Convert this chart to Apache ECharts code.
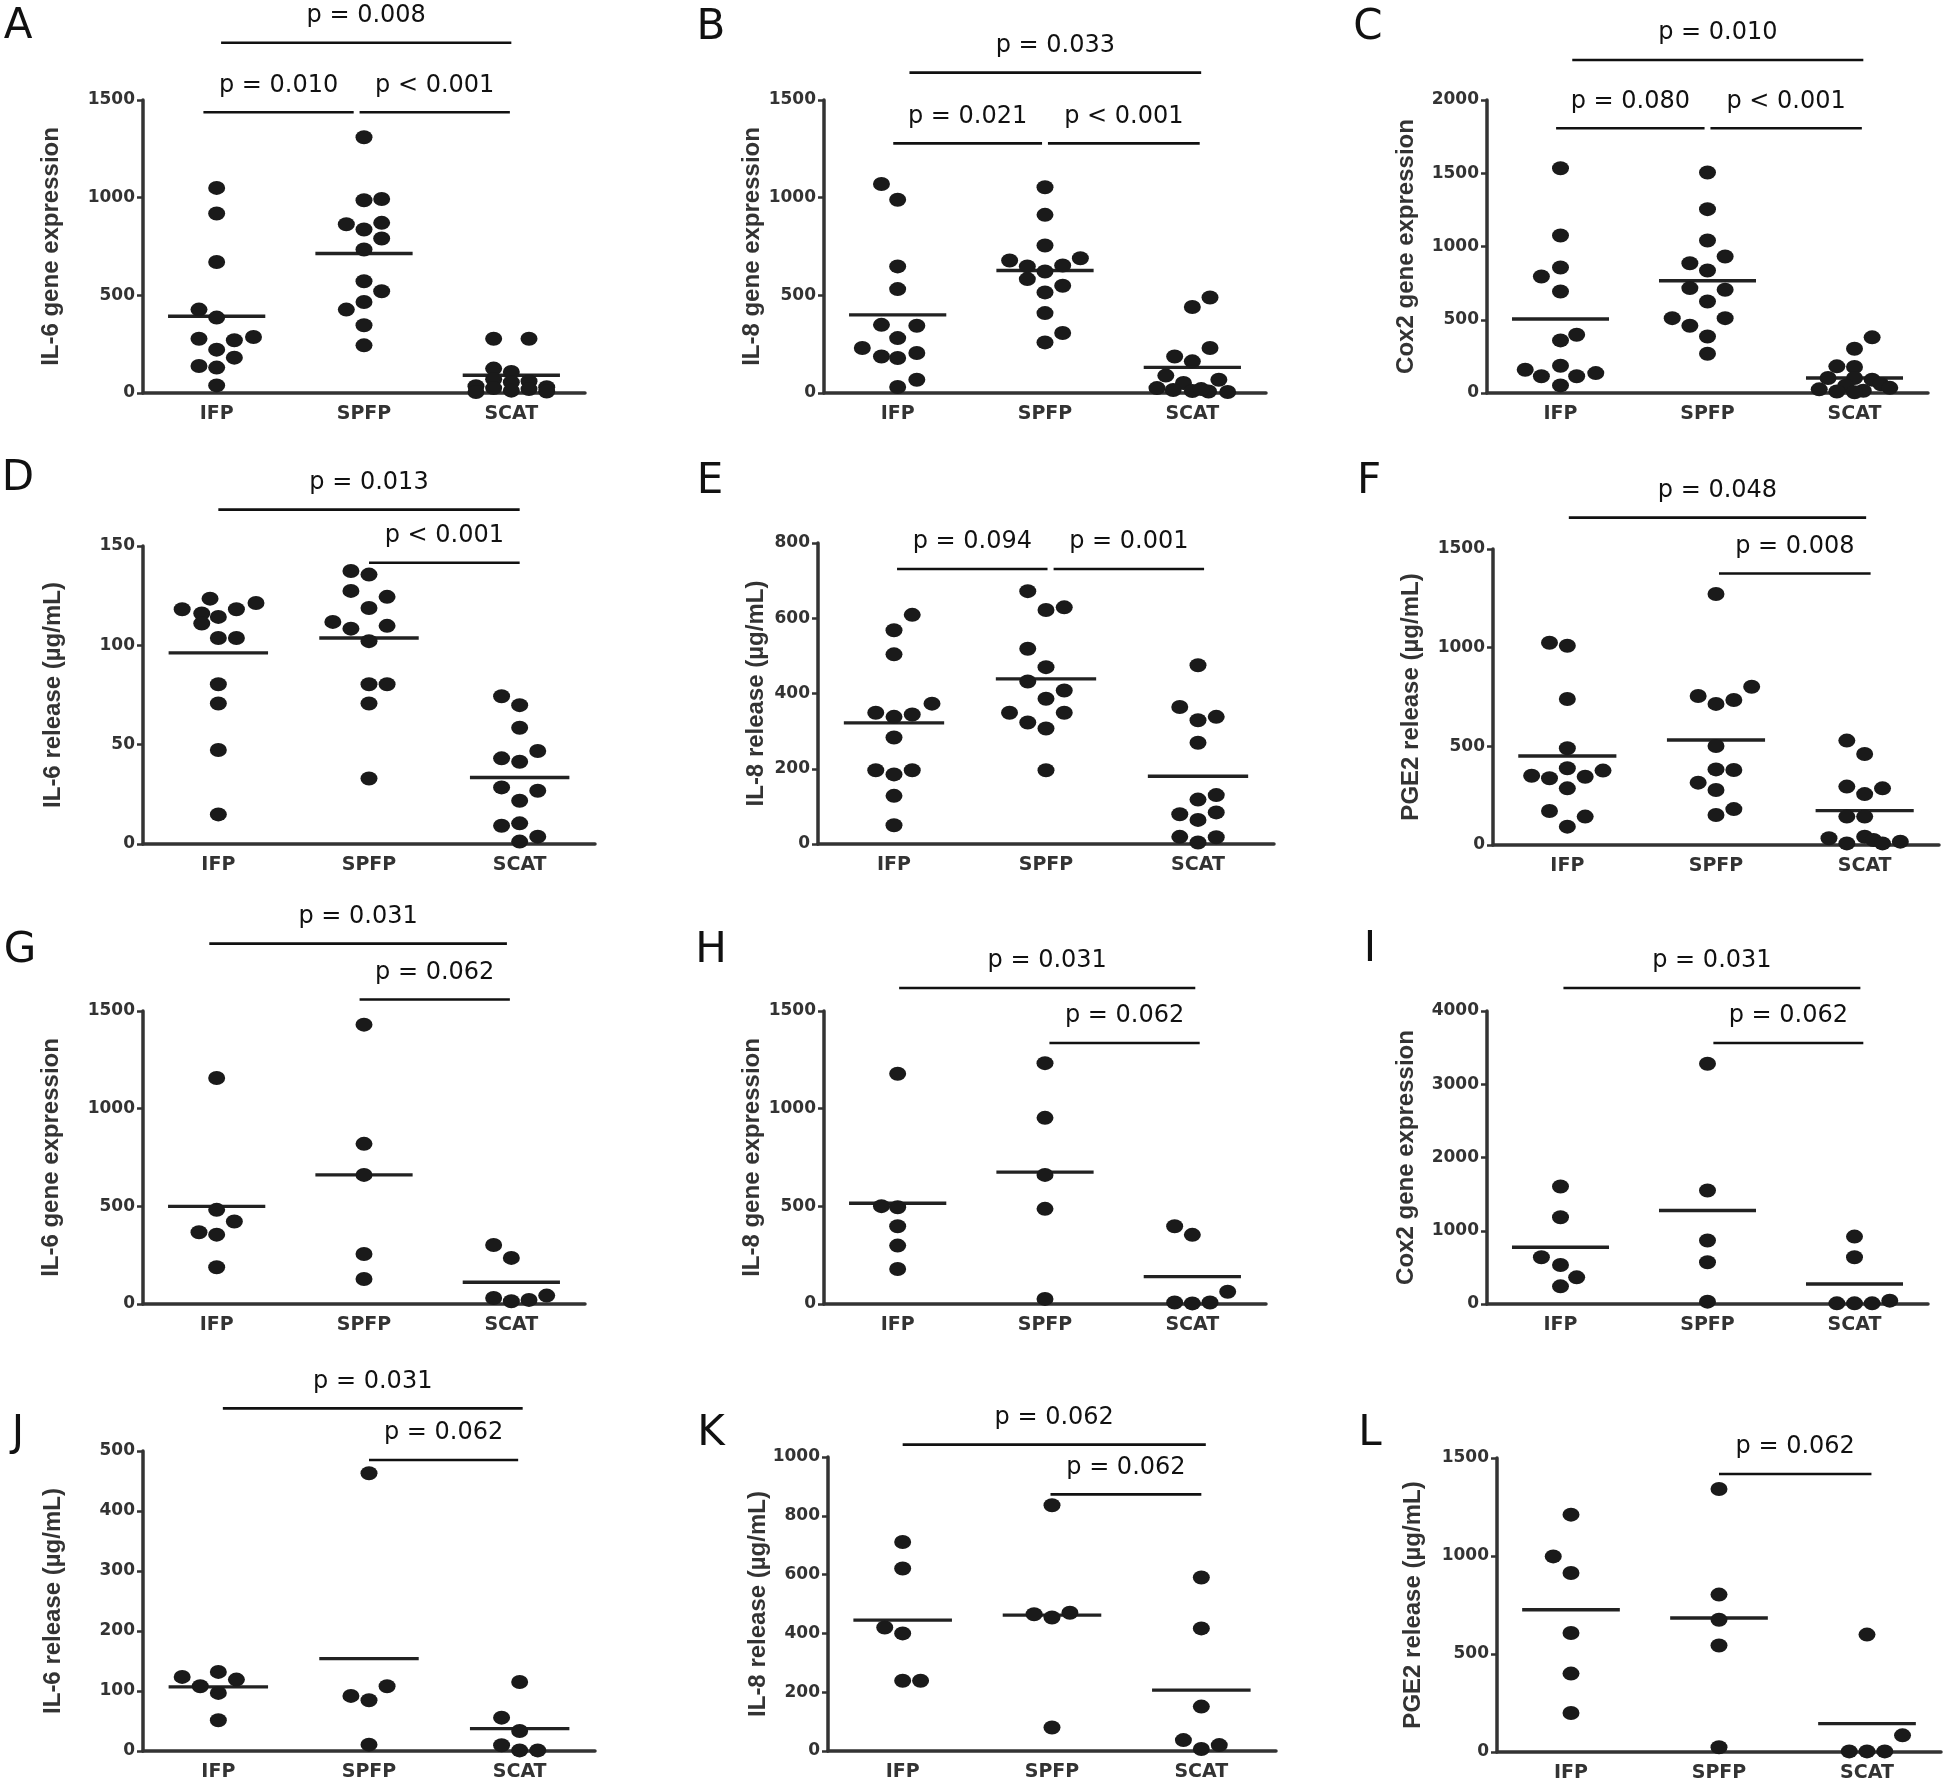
<!DOCTYPE html>
<html><head><meta charset="utf-8">
<script src="https://cdn.jsdelivr.net/npm/echarts@6/dist/echarts.min.js"></script>
<style>html,body{margin:0;padding:0;background:#fff}#c{width:1946px;height:1787px}</style>
</head><body><div id="c"></div><script>
const groups = ['IFP', 'SPFP', 'SCAT'];
const panelLetters = ['A','B','C','D','E','F','G','H','I','J','K','L'];
const yTitles = ['IL-6 gene expression','IL-8 gene expression','Cox2 gene expression',
  'IL-6 release (µg/mL)','IL-8 release (µg/mL)','PGE2 release (µg/mL)',
  'IL-6 gene expression','IL-8 gene expression','Cox2 gene expression',
  'IL-6 release (µg/mL)','IL-8 release (µg/mL)','PGE2 release (µg/mL)'];
const yMax  = [1500, 1500, 2000, 150, 800, 1500, 1500, 1500, 4000, 500, 1000, 1500];
const yStep = [500, 500, 500, 50, 200, 500, 500, 500, 1000, 100, 200, 500];

// ---- A ----
const A_IFP  = [1050, 919, 671, 427, 386, 278, 270, 287, 222, 181, 138, 130, 39];
const A_SPFP = [1309, 987, 993, 864, 871, 837, 791, 735, 572, 521, 466, 427, 347, 244];
const A_SCAT = [278, 278, 125, 108, 70, 60, 55, 35, 30, 25, 20, 12, 8, 5];
const A_jit = [[0,0,0,-0.12,0,-0.12,0.12,0.25,0,0.12,-0.12,0,0],
               [0,0,0.12,-0.12,0.12,0,0.12,0,0,0.12,0,-0.12,0,0],
               [-0.12,0.12,-0.12,0,-0.12,0.12,0,-0.24,0.24,-0.12,0.12,0,0.24,-0.24]];
const A_means = [393, 714, 91];
const A_pvals = [[-0.09, 0.93, 1437, 'p = 0.010'], [0.97, 1.99, 1437, 'p < 0.001'], [0.03, 2.0, 1793, 'p = 0.008']];
// ---- B ----
const B_IFP  = [1070, 989, 648, 532, 349, 344, 281, 230, 187, 179, 205, 68, 31];
const B_SPFP = [1053, 912, 755, 678, 690, 648, 653, 622, 583, 549, 515, 409, 307, 259];
const B_SCAT = [489, 440, 230, 187, 162, 89, 68, 51, 25, 15, 10, 8, 5, 20];
const B_jit = [[-0.11,0,0,0,-0.11,0.13,0,-0.24,-0.11,0,0.13,0.13,0],
               [0,0,0,-0.24,0.24,-0.12,0.12,0,-0.12,0.12,0,0,0.12,0],
               [0.12,0,0.12,-0.12,0,-0.18,0.18,-0.06,-0.24,-0.13,0,0.11,0.24,0.06]];
const B_means = [400, 627, 131];
const B_pvals = [[-0.03, 0.98, 1278, 'p = 0.021'], [1.02, 2.05, 1278, 'p < 0.001'], [0.08, 2.06, 1640, 'p = 0.033']];
// ---- C ----
const C_IFP  = [1534, 1075, 857, 795, 693, 398, 359, 186, 159, 114, 114, 136, 52];
const C_SPFP = [1505, 1255, 1041, 932, 886, 836, 716, 705, 625, 511, 511, 459, 386, 268];
const C_SCAT = [380, 302, 182, 177, 102, 102, 91, 60, 50, 35, 25, 15, 10, 5];
const C_jit = [[0,0,0,-0.13,0,0.11,0,0,-0.24,-0.13,0.11,0.24,0],
               [0,0,0,0.12,-0.12,0,-0.12,0.12,0,-0.24,0.12,-0.12,0,0],
               [0.12,0,-0.12,0,-0.18,0,0.12,0.18,-0.06,0.24,-0.24,0.06,-0.12,0]];
const C_means = [505, 766, 102];
const C_pvals = [[-0.03, 0.98, 1807, 'p = 0.080'], [1.02, 2.05, 1807, 'p < 0.001'], [0.08, 2.06, 2273, 'p = 0.010']];
// ---- D ----
const D_IFP  = [123.5, 118.2, 121.3, 118.2, 116, 114.3, 111, 103.7, 103.7, 80.4, 70.7, 47.3, 14.9];
const D_SPFP = [137.4, 135.6, 127.4, 124.4, 118.8, 111.8, 108.4, 109.8, 102.1, 80.4, 80.4, 70.7, 33];
const D_SCAT = [74.4, 69.9, 58.5, 46.8, 43.1, 41.4, 28.5, 26.8, 21.8, 9.2, 10.4, 3.7, 1.2];
const D_jit = [[-0.055,-0.24,0.25,0.12,-0.11,0,-0.11,0,0.12,0,0,0,0],
               [-0.12,0,-0.12,0.12,0,-0.24,-0.12,0.12,0,0,0.12,0,0],
               [-0.12,0,0,0.12,-0.12,0,-0.12,0.12,0,-0.12,0,0.12,0]];
const D_means = [96.2, 103.7, 33.5];
const D_pvals = [[1.0, 2.0, 141.6, 'p < 0.001'], [0.0, 2.0, 168.3, 'p = 0.013']];
// ---- E ----
const E_IFP  = [609, 568, 504, 373, 349, 338, 344, 283, 196, 196, 185, 128, 50];
const E_SPFP = [672, 622, 629, 519, 470, 432, 386, 408, 349, 349, 323, 307, 196];
const E_SCAT = [475, 364, 329, 338, 269, 130, 118, 79, 84, 64, 19, 18, 4];
const E_jit = [[0.12,0,0,0.25,-0.12,0,0.12,0,-0.12,0.12,0,0,0],
               [-0.12,0,0.12,-0.12,0,-0.12,0,0.12,-0.24,0.12,-0.12,0,0],
               [0,-0.12,0,0.12,0,0.12,0,-0.12,0.12,0,-0.12,0.12,0]];
const E_means = [322, 439, 180];
const E_pvals = [[0.02, 1.01, 731, 'p = 0.094'], [1.05, 2.04, 731, 'p = 0.001']];
// ---- F ----
const F_IFP  = [1025, 1010, 740, 490, 389, 377, 351, 338, 346, 287, 172, 144, 93];
const F_SPFP = [1272, 802, 755, 715, 735, 502, 383, 380, 316, 279, 182, 152];
const F_SCAT = [529, 461, 296, 287, 258, 144, 144, 34, 8, 42, 25, 8, 17];
const F_jit = [[-0.12,0,0,0,0,0.24,-0.24,-0.12,0.12,0,-0.12,0.12,0],
               [0,0.24,-0.12,0,0.12,0,0,0.12,-0.12,0,0.12,0],
               [-0.12,0,-0.12,0.12,0,-0.12,0,-0.24,-0.12,0,0.06,0.12,0.24]];
const F_means = [451, 532, 174];
const F_pvals = [[1.02, 2.04, 1376, 'p = 0.008'], [0.01, 2.01, 1659, 'p = 0.048']];
// ---- G ----
const G_IFP  = [1157, 482, 422, 367, 355, 188];
const G_SPFP = [1430, 820, 661, 256, 128];
const G_SCAT = [302, 236, 31, 14, 21, 43];
const G_jit = [[0,0,0.12,-0.12,0,0], [0,0,0,0,0], [-0.12,0,-0.12,0,0.12,0.24]];
const G_means = [500, 661, 111];
const G_pvals = [[0.97, 1.99, 1559, 'p = 0.062'], [-0.05, 1.97, 1845, 'p = 0.031']];
// ---- H ----
const H_IFP  = [1179, 501, 495, 398, 299, 179];
const H_SPFP = [1233, 953, 661, 487, 26];
const H_SCAT = [398, 354, 63, 8, 3, 8];
const H_jit = [[0,-0.11,0,0,0,0], [0,0,0,0,0], [-0.12,0,0.24,-0.12,0,0.12]];
const H_means = [516, 675, 140];
const H_pvals = [[1.03, 2.05, 1336, 'p = 0.062'], [0.01, 2.02, 1618, 'p = 0.031']];
// ---- I ----
const I_IFP  = [1604, 1184, 638, 533, 364, 241];
const I_SPFP = [3280, 1549, 866, 569, 32];
const I_SCAT = [920, 638, 9, 9, 9, 46];
const I_jit = [[0,0,-0.13,0,0.11,0], [0,0,0,0,0], [0,0,-0.12,0,0.12,0.24]];
const I_means = [774, 1276, 273];
const I_pvals = [[1.04, 2.06, 3563, 'p = 0.062'], [0.02, 2.04, 4314, 'p = 0.031']];
// ---- J ----
const J_IFP  = [123.5, 131.8, 119, 107.9, 96.8, 51.2];
const J_SPFP = [462.8, 107.9, 91.8, 84.5, 10.6];
const J_SCAT = [115, 55.6, 33.4, 9.5, 1, 1];
const J_jit = [[-0.24,0,0.12,-0.12,0,0], [0,0.12,-0.12,0,0], [0,-0.12,0,-0.12,0,0.12]];
const J_means = [106.8, 154, 37.3];
const J_pvals = [[1.0, 1.99, 485, 'p = 0.062'], [0.03, 2.02, 571, 'p = 0.031']];
// ---- K ----
const K_IFP  = [711, 621, 420, 400, 239, 239];
const K_SPFP = [836, 465, 454, 470, 80];
const K_SCAT = [590, 417, 151, 37, 20, 7];
const K_jit = [[0,0,-0.12,0,0,0.12], [0,-0.12,0,0.12,0], [0,0,0,-0.12,0.12,0]];
const K_means = [445, 462, 207];
const K_pvals = [[0.99, 2.0, 873, 'p = 0.062'], [0.0, 2.03, 1042, 'p = 0.062']];
// ---- L ----
const L_IFP  = [1211, 998, 913, 607, 400, 199];
const L_SPFP = [1342, 803, 675, 543, 24];
const L_SCAT = [599, 85, 3, 3, 3];
const L_jit = [[0,-0.12,0,0,0,0], [0,0,0,0,0], [0,0.24,-0.12,0,0.12]];
const L_means = [726, 684, 145];
const L_pvals = [[1.0, 2.03, 1418, 'p = 0.062']];

const panelData = [
  [[A_IFP, A_SPFP, A_SCAT], A_jit, A_means, A_pvals],
  [[B_IFP, B_SPFP, B_SCAT], B_jit, B_means, B_pvals],
  [[C_IFP, C_SPFP, C_SCAT], C_jit, C_means, C_pvals],
  [[D_IFP, D_SPFP, D_SCAT], D_jit, D_means, D_pvals],
  [[E_IFP, E_SPFP, E_SCAT], E_jit, E_means, E_pvals],
  [[F_IFP, F_SPFP, F_SCAT], F_jit, F_means, F_pvals],
  [[G_IFP, G_SPFP, G_SCAT], G_jit, G_means, G_pvals],
  [[H_IFP, H_SPFP, H_SCAT], H_jit, H_means, H_pvals],
  [[I_IFP, I_SPFP, I_SCAT], I_jit, I_means, I_pvals],
  [[J_IFP, J_SPFP, J_SCAT], J_jit, J_means, J_pvals],
  [[K_IFP, K_SPFP, K_SCAT], K_jit, K_means, K_pvals],
  [[L_IFP, L_SPFP, L_SCAT], L_jit, L_means, L_pvals]
];

// layout: grid rect, axis-name gap, panel letter centre
const layout = [
  {left:143, top:100, width:442, height:293, gap:80, lx:18, ly:27},
  {left:824, top:100, width:442, height:293, gap:60, lx:711, ly:28},
  {left:1487, top:100, width:441, height:293, gap:69, lx:1368, ly:28},
  {left:143, top:546, width:452, height:298, gap:78, lx:18, ly:479},
  {left:818, top:543, width:456, height:301, gap:50, lx:710, ly:482},
  {left:1493, top:549, width:446, height:296, gap:70, lx:1369, ly:482},
  {left:143, top:1011, width:442, height:293, gap:80, lx:20, ly:951},
  {left:824, top:1011, width:442, height:293, gap:60, lx:711, ly:951},
  {left:1487, top:1011, width:441, height:293, gap:69, lx:1370, ly:950},
  {left:143, top:1451, width:452, height:300, gap:78, lx:18, ly:1434},
  {left:828, top:1457, width:448, height:294, gap:58, lx:711, ly:1434},
  {left:1497, top:1458, width:444, height:294, gap:72, lx:1370, ly:1434}
];

const INK = '#1a1a1a', AX = '#333';
const grids = [], xAxes = [], yAxes = [], series = [], graphics = [];

layout.forEach((L, gi) => {
  const [vals, jit, means, pvals] = panelData[gi];
  grids.push({left: L.left, top: L.top, width: L.width, height: L.height, containLabel: false, outerBoundsMode: 'none'});
  xAxes.push({
    gridIndex: gi, type: 'category', data: groups, boundaryGap: true,
    axisLine: {show: true, onZero: false, lineStyle: {color: AX, width: 3.5}},
    axisTick: {show: false},
    axisLabel: {margin: 12, fontSize: 19, fontWeight: 'bold', fontFamily: 'DejaVu Sans', color: AX},
    splitLine: {show: false}
  });
  xAxes.push({gridIndex: gi, type: 'value', min: -0.5, max: 2.5, show: false, splitLine: {show: false}});
  yAxes.push({
    gridIndex: gi, type: 'value', min: 0, max: yMax[gi], interval: yStep[gi],
    splitLine: {show: false},
    axisLine: {show: true, onZero: false, lineStyle: {color: AX, width: 3.5}},
    axisTick: {show: true, length: 6, lineStyle: {color: AX, width: 2.5}},
    axisLabel: {margin: 8, fontSize: 17, fontWeight: 'bold', fontFamily: 'DejaVu Sans', color: AX,
                formatter: v => String(v)},
    name: yTitles[gi], nameLocation: 'middle', nameGap: L.gap, nameRotate: 90, nameMoveOverlap: false,
    nameTextStyle: {fontSize: 24, fontWeight: 'bold', fontFamily: 'Liberation Sans', color: AX}
  });
  const pts = [];
  vals.forEach((arr, i) => arr.forEach((v, k) => pts.push([i + jit[i][k], v])));
  series.push({
    type: 'scatter', xAxisIndex: 2 * gi + 1, yAxisIndex: gi, data: pts,
    symbol: 'circle', symbolSize: [17, 14], clip: false, silent: true,
    itemStyle: {color: INK, opacity: 1}
  });
  series.push({
    type: 'custom', xAxisIndex: 2 * gi + 1, yAxisIndex: gi, clip: false, silent: true,
    data: means.map((m, i) => [i, m]), encode: {x: 0, y: 1},
    renderItem: function (params, api) {
      const i = api.value(0), m = api.value(1);
      const p1 = api.coord([i - 0.33, m]), p2 = api.coord([i + 0.33, m]);
      return {type: 'line', shape: {x1: p1[0], y1: p1[1], x2: p2[0], y2: p2[1]},
              style: {stroke: '#222', lineWidth: 3.4}};
    }
  });
  series.push({
    type: 'custom', xAxisIndex: 2 * gi + 1, yAxisIndex: gi, clip: false, silent: true,
    data: pvals.map(b => [b[0], b[1], b[2]]), encode: {x: [0, 1], y: 2},
    renderItem: function (params, api) {
      const b = pvals[params.dataIndex];
      const p1 = api.coord([b[0], b[2]]), p2 = api.coord([b[1], b[2]]);
      return {type: 'group', children: [
        {type: 'line', shape: {x1: p1[0], y1: p1[1], x2: p2[0], y2: p2[1]},
         style: {stroke: '#111', lineWidth: 2.6}},
        {type: 'text', x: (p1[0] + p2[0]) / 2, y: p1[1] - 27,
         style: {text: b[3], align: 'center', verticalAlign: 'middle',
                 fontSize: 24, fontFamily: 'DejaVu Sans', fill: '#111'}}
      ]};
    }
  });
  graphics.push({type: 'text', x: L.lx, y: L.ly, silent: true,
    style: {text: panelLetters[gi], align: 'center', verticalAlign: 'middle',
            fontSize: 42, fontFamily: 'DejaVu Sans', fill: '#111'}});
});

const chart = echarts.init(document.getElementById('c'), null, {renderer: 'canvas'});
chart.setOption({
  backgroundColor: '#fff', animation: false,
  grid: grids, xAxis: xAxes, yAxis: yAxes, series: series, graphic: graphics
});
</script></body></html>
